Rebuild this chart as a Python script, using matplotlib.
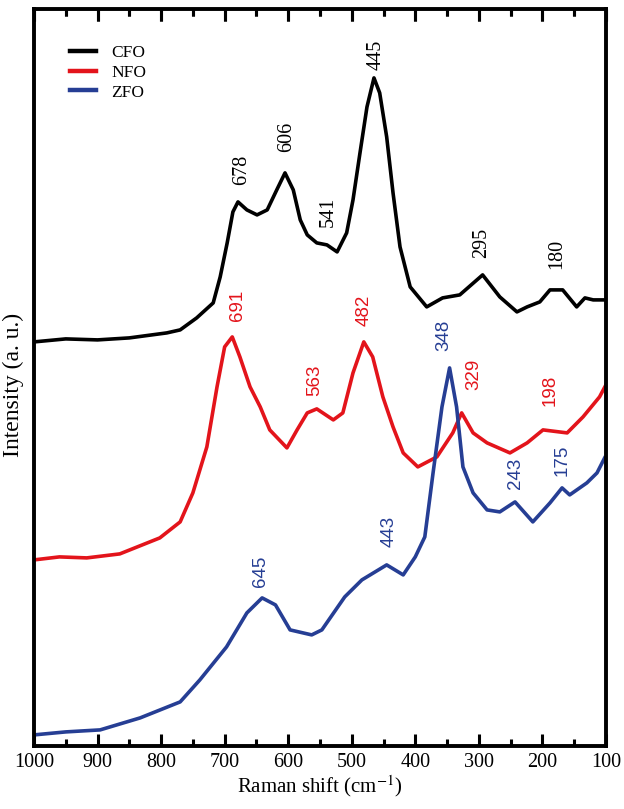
import numpy as np
import matplotlib.pyplot as plt
import matplotlib.transforms as mtransforms

plt.rcParams['font.family'] = ['Liberation Serif', 'DejaVu Serif']
plt.rcParams['mathtext.fontset'] = 'stix'

# Raman spectra (intensity in arbitrary units)
x_cfo = [1000, 950, 900, 850, 791, 770, 744, 718, 707, 696, 687, 679, 665, 649, 633, 618,
         605, 592, 581, 570, 555, 539, 523, 508, 498, 487, 476, 465, 456, 445, 435, 424,
         408, 382, 357, 330, 294, 267, 240, 224, 204, 188, 168, 146, 133, 120, 101]
i_cfo = [404, 407, 406, 408, 413, 416, 428, 443, 469, 503, 534, 544, 536, 531, 536, 556,
         573, 556, 526, 511, 503, 501, 494, 513, 546, 593, 639, 668, 653, 609, 553, 499,
         459, 439, 448, 451, 471, 449, 434, 439, 444, 456, 456, 439, 448, 446, 446]

x_nfo = [1000, 960, 917, 865, 802, 770, 750, 728, 712, 700, 688, 676, 660, 644, 629, 602,
         586, 570, 555, 529, 514, 498, 481, 467, 451, 435, 419, 396, 366, 341, 327, 309,
         287, 251, 224, 199, 161, 136, 110, 100]
i_nfo = [186, 189, 188, 192, 208, 224, 253, 299, 359, 399, 409, 389, 359, 339, 316, 298,
         316, 333, 337, 326, 333, 373, 404, 389, 349, 319, 293, 279, 289, 313, 333, 313,
         303, 293, 303, 316, 313, 329, 349, 361]

x_zfo = [1000, 950, 896, 833, 770, 739, 697, 665, 641, 620, 597, 563, 547, 511, 484, 445,
         419, 400, 385, 372, 358, 346, 335, 325, 309, 287, 267, 243, 215, 188, 169, 157,
         130, 114, 102]
i_zfo = [11, 14, 16, 28, 44, 66, 99, 133, 148, 141, 116, 111, 116, 149, 166, 181,
         171, 189, 209, 273, 339, 378, 339, 279, 253, 236, 234, 244, 224, 243, 258, 251,
         263, 273, 288]

names = ['CFO', 'NFO', 'ZFO']
colors = ['#000000', '#e3141b', '#263e94']

# peak labels: (text, x, y, series index)
peaks = [('678', 673, 576, 0), ('606', 602, 609, 0), ('541', 537, 534, 0),
         ('445', 462, 691, 0), ('295', 295, 503, 0), ('180', 177, 492, 0),
         ('691', 679, 441, 1), ('563', 558, 366, 1), ('482', 481, 436, 1),
         ('329', 308, 372, 1), ('198', 187, 356, 1),
         ('348', 355, 411, 2), ('243', 242, 273, 2), ('175', 169, 286, 2),
         ('443', 441, 214, 2), ('645', 643, 175, 2)]

major = np.arange(1000, 99, -100)
minor = np.arange(950, 100, -100)

fig = plt.figure(figsize=(6.24, 8.09), dpi=100)
ax = fig.add_axes([0.0545, 0.078, 0.9165, 0.911])

for xs, ys, n, c in zip([x_cfo, x_nfo, x_zfo], [i_cfo, i_nfo, i_zfo], names, colors):
    ax.plot(xs, ys, color=c, lw=2.6, label=n, solid_joinstyle='round')

for t, px, py, k in peaks:
    if k == 0:
        ax.text(px, py, t, color=colors[k], rotation=90, ha='center', va='center',
                fontsize=14.5, family='Liberation Serif')
    else:
        ax.text(px, py, t, color=colors[k], rotation=90, ha='center', va='center',
                fontsize=13.5, family='Liberation Sans')

ax.set_xlim(1000, 100)
ax.set_ylim(0, 737)
ax.set_xticks(major)
ax.set_xticks(minor, minor=True)
ax.set_yticks([])
for s in ax.spines.values():
    s.set_linewidth(2.8)

ax.set_xlabel('Raman shift (cm$^{-1}$)', fontsize=15, labelpad=1)
ax.set_ylabel('Intensity (a. u.)', fontsize=17)
ax.yaxis.set_label_coords(-0.017, 0.49)

leg = ax.legend(loc='upper left', bbox_to_anchor=(0.035, 0.972), frameon=False,
                fontsize=12.5, handlelength=1.5, labelspacing=0.2, handletextpad=0.9)
for h in leg.get_lines():
    h.set_linewidth(3.2)

ax.xaxis.set_ticks_position('both')
ax.tick_params(axis='x', which='both', direction='in', top=True, bottom=True,
               labelsize=14.5, width=2.2, color='k')
ax.tick_params(axis='x', which='major', length=8.5, pad=5)
ax.tick_params(axis='x', which='minor', length=5)

# inward ticks along the top edge, drawn directly as well
trans = mtransforms.blended_transform_factory(ax.transData, ax.transAxes)
ax.vlines(major, 1 - 0.0165, 1, transform=trans, colors='k', lw=2.2,
          clip_on=False, zorder=6)
ax.vlines(minor, 1 - 0.0095, 1, transform=trans, colors='k', lw=2.2,
          clip_on=False, zorder=6)

fig.savefig('out.png', dpi=100)
